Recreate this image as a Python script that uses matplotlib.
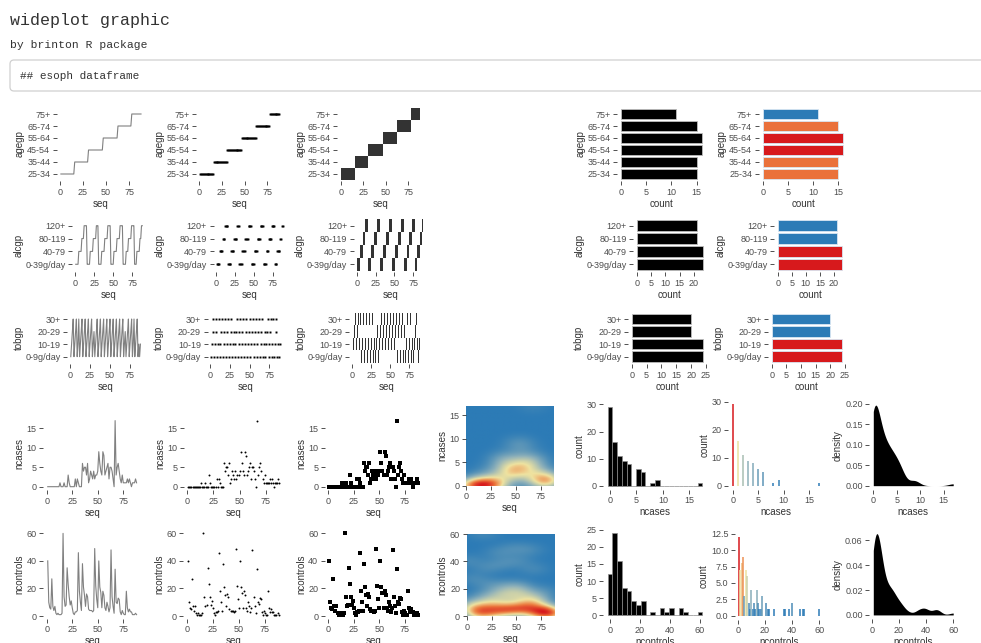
import numpy as np
import matplotlib
matplotlib.use('Agg')
import matplotlib.pyplot as plt
from matplotlib.colors import LinearSegmentedColormap
from matplotlib.patches import FancyBboxPatch

plt.rcParams['font.family'] = ['Liberation Sans', 'DejaVu Sans']

# ---------------- data (esoph) ----------------
agegp_levels = ['25-34', '35-44', '45-54', '55-64', '65-74', '75+']
alcgp_levels = ['0-39g/day', '40-79', '80-119', '120+']
tobgp_levels = ['0-9g/day', '10-19', '20-29', '30+']

agegp = (['25-34'] * 15 + ['35-44'] * 15 + ['45-54'] * 16 + ['55-64'] * 16
         + ['65-74'] * 15 + ['75+'] * 11)
alcgp = (['0-39g/day'] * 4 + ['40-79'] * 4 + ['80-119'] * 3 + ['120+'] * 4
         + ['0-39g/day'] * 4 + ['40-79'] * 4 + ['80-119'] * 4 + ['120+'] * 3
         + ['0-39g/day'] * 4 + ['40-79'] * 4 + ['80-119'] * 4 + ['120+'] * 4
         + ['0-39g/day'] * 4 + ['40-79'] * 4 + ['80-119'] * 4 + ['120+'] * 4
         + ['0-39g/day'] * 4 + ['40-79'] * 3 + ['80-119'] * 4 + ['120+'] * 4
         + ['0-39g/day'] * 3 + ['40-79'] * 4 + ['80-119'] * 2 + ['120+'] * 2)
tobgp = (['0-9g/day', '10-19', '20-29', '30+'] * 2 + ['0-9g/day', '10-19', '30+']
         + ['0-9g/day', '10-19', '20-29', '30+']
         + ['0-9g/day', '10-19', '20-29', '30+'] * 3 + ['0-9g/day', '10-19', '20-29']
         + ['0-9g/day', '10-19', '20-29', '30+'] * 4
         + ['0-9g/day', '10-19', '20-29', '30+'] * 4
         + ['0-9g/day', '10-19', '20-29', '30+'] + ['0-9g/day', '10-19', '20-29']
         + ['0-9g/day', '10-19', '20-29', '30+'] * 2
         + ['0-9g/day', '10-19', '30+'] + ['0-9g/day', '10-19', '20-29', '30+']
         + ['0-9g/day', '10-19'] * 2)
ncases = [0, 0, 0, 0, 0, 0, 0, 0, 0, 0, 0, 0, 1, 0, 0,
          0, 1, 0, 0, 0, 3, 1, 0, 0, 0, 0, 0, 2, 0, 2,
          1, 0, 0, 0, 6, 4, 5, 5, 3, 6, 1, 2, 4, 3, 2, 4,
          2, 3, 3, 4, 9, 6, 4, 3, 9, 8, 3, 4, 5, 6, 2, 5,
          5, 4, 2, 0, 17, 3, 5, 6, 4, 2, 1, 3, 1, 1, 1,
          1, 2, 1, 2, 1, 0, 1, 1, 1, 2, 1]
ncontrols = [40, 10, 6, 5, 27, 7, 4, 7, 2, 1, 2, 1, 1, 1, 2,
             60, 14, 7, 8, 35, 23, 14, 8, 11, 6, 2, 1, 3, 3, 4,
             46, 18, 10, 4, 38, 21, 15, 7, 16, 14, 5, 4, 4, 4, 3, 4,
             49, 22, 12, 6, 40, 21, 17, 6, 18, 15, 6, 4, 10, 7, 3, 6,
             48, 14, 7, 2, 34, 10, 9, 13, 12, 3, 1, 4, 2, 1, 1,
             18, 6, 3, 5, 3, 3, 1, 1, 1, 2, 1]

seq = np.arange(1, len(agegp) + 1)

# ---------------- figure ----------------
W, H = 981, 643
fig = plt.figure(figsize=(W / 100, H / 100), dpi=100)
bg = fig.add_axes([0, 0, 1, 1])
bg.set_xlim(0, W)
bg.set_ylim(H, 0)
bg.axis('off')
bg.text(10, 20, 'wideplot graphic', family='Liberation Mono', fontsize=12,
        va='center', ha='left', color='#333333')
bg.text(10, 45, 'by brinton R package', family='Liberation Mono', fontsize=8.2,
        va='center', ha='left', color='#333333')
bg.add_patch(FancyBboxPatch((10, 60), 990, 31, boxstyle='round,pad=0,rounding_size=4',
                            ec='#d0d0d0', fc='white', lw=0.9))
bg.text(20, 76, '## esoph dataframe', family='Liberation Mono', fontsize=7.9,
        va='center', ha='left', color='#333333')

TICK_C = '#333333'
LAB_C = '#4d4d4d'
TITLE_C = '#333333'
TICK_FS = 6.5
TITLE_FS = 7
cmap = LinearSegmentedColormap.from_list(
    'brinton', [(0.0, '#2c7bb6'), (0.3, '#93b3b9'), (0.55, '#efe3a0'),
                (0.78, '#ec7a3e'), (1.0, '#d7191c')])


def panel(l, t, r, b):
    ax = fig.add_axes([l / W, 1 - b / H, (r - l) / W, (b - t) / H])
    for s in ax.spines.values():
        s.set_visible(False)
    ax.patch.set_visible(False)
    ax.tick_params(length=2.75, width=0.6, color=TICK_C, labelsize=TICK_FS,
                   labelcolor=LAB_C, pad=2)
    return ax


def labels(ax, xl, yl):
    ax.set_xlabel(xl, fontsize=TITLE_FS, color=TITLE_C, labelpad=1.5)
    ax.set_ylabel(yl, fontsize=TITLE_FS, color=TITLE_C, labelpad=1.5)


def expand(lo, hi, m=0.05):
    d = (hi - lo) * m
    return lo - d, hi + d


seq_lim = expand(seq.min(), seq.max())
seq_ticks = [0, 25, 50, 75]

# ---------------- factor rows ----------------
factor_rows = [
    ('agegp', agegp, agegp_levels, 106.8, 181.2,
     [(56.9, 145.0), (196.3, 283.1), (337.2, 424.4), (617.0, 705.7), (758.7, 847.4)],
     [0, 5, 10, 15]),
    ('alcgp', alcgp, alcgp_levels, 218.0, 272.0,
     [(72.4, 145.6), (213.5, 285.8), (353.8, 426.8), (633.4, 705.9), (774.4, 845.7)],
     [0, 5, 10, 15, 20]),
    ('tobgp', tobgp, tobgp_levels, 311.5, 364.2,
     [(67.3, 143.9), (207.5, 283.0), (349.3, 422.9), (628.1, 706.6), (768.2, 845.5)],
     [0, 5, 10, 15, 20, 25]),
]

for name, vals, levels, top, bot, boxes, cticks in factor_rows:
    codes = np.array([levels.index(v) for v in vals])
    n = len(levels)
    ylim = (-0.6, n - 0.4)
    # line graph
    ax = panel(boxes[0][0], top, boxes[0][1], bot)
    ax.plot(seq, codes, color='#808080', lw=0.8)
    # point graph
    ax2 = panel(boxes[1][0], top, boxes[1][1], bot)
    ax2.plot(seq, codes, 's', ms=1.4, mew=0, color='black')
    # tile graph
    ax3 = panel(boxes[2][0], top, boxes[2][1], bot)
    ax3.bar(seq, np.ones(len(seq)), bottom=codes - 0.5, width=1.0,
            color='#333333', linewidth=0)
    for a in (ax, ax2, ax3):
        a.set_xlim(expand(seq.min() - 0.5, seq.max() + 0.5) if a is ax3 else seq_lim)
        a.set_ylim(ylim)
        a.set_yticks(range(n))
        a.set_yticklabels(levels)
        a.set_xticks(seq_ticks)
        labels(a, 'seq', name)
    # bar graph (black) and coloured bar graph
    counts = np.array([list(vals).count(lv) for lv in levels])
    cnorm = (counts - counts.min()) / max(counts.max() - counts.min(), 1)
    for k, (l, r) in enumerate(boxes[3:5]):
        axb = panel(l, top, r, bot)
        if k == 0:
            axb.barh(range(n), counts, height=0.85, color='black',
                     edgecolor='#bdbdbd', lw=0.6)
        else:
            axb.barh(range(n), counts, height=0.85, color=cmap(cnorm),
                     edgecolor='#d9e6f2', lw=0.6)
        axb.set_xlim(expand(0, counts.max()))
        axb.set_ylim(ylim)
        axb.set_yticks(range(n))
        axb.set_yticklabels(levels)
        axb.set_xticks(cticks)
        labels(axb, 'count', name)


# ---------------- numeric rows ----------------
def kde2d(x, y, gx, gy):
    def bw(v):
        q75, q25 = np.percentile(v, [75, 25])
        return 1.06 * min(np.std(v, ddof=1), (q75 - q25) / 1.34) * len(v) ** (-0.2)
    hx, hy = bw(x), bw(y)
    ax_ = np.exp(-0.5 * ((gx[:, None] - x[None, :]) / hx) ** 2)
    ay_ = np.exp(-0.5 * ((gy[:, None] - y[None, :]) / hy) ** 2)
    return ax_ @ ay_.T / (2 * np.pi * len(x) * hx * hy)


def kde1d(v, xs):
    q75, q25 = np.percentile(v, [75, 25])
    h = 0.9 * min(np.std(v, ddof=1), (q75 - q25) / 1.34) * len(v) ** (-0.2)
    return np.exp(-0.5 * ((xs[:, None] - v[None, :]) / h) ** 2).sum(1) / (len(v) * h * np.sqrt(2 * np.pi))


num_rows = [
    ('ncases', np.array(ncases, float), 417.3, 490.0,
     [(43.3, 141.0), (183.8, 283.8), (324.9, 422.7)],
     (466.0, 405.7, 554.0, 485.7), (602.9, 403.2, 707.0, 489.6),
     (728.4, 400.4, 823.6, 489.8), (869.3, 401.1, 957.2, 489.7),
     [0, 5, 10, 15], [0, 10, 20, 30], [0, 10, 20, 30], [0.0, 0.05, 0.10, 0.15, 0.20],
     '{:.0f}', '{:.2f}'),
    ('ncontrols', np.array(ncontrols, float), 529.3, 618.7,
     [(43.3, 141.0), (183.2, 283.1), (324.9, 422.7)],
     (466.7, 534.0, 554.0, 616.0), (602.9, 529.3, 707.1, 619.1),
     (735.0, 533.3, 823.3, 619.6), (869.3, 529.6, 957.2, 619.0),
     [0, 20, 40, 60], [0, 5, 10, 15, 20, 25], [0, 2.5, 5, 7.5, 10, 12.5], [0.0, 0.02, 0.04, 0.06],
     '{:.1f}', '{:.2f}'),
]

for (name, v, top, bot, boxes, hbox, hibox, chbox, dbox,
     vticks, hticks, chticks, dticks, chfmt, dfmt) in num_rows:
    ylim = expand(v.min(), v.max())
    # line, point, binned-point graphs
    axl = panel(boxes[0][0], top, boxes[0][1], bot)
    axl.plot(seq, v, color='#808080', lw=0.8)
    axp = panel(boxes[1][0], top, boxes[1][1], bot)
    axp.plot(seq, v, 'o', ms=1.4, mew=0, color='black')
    axs = panel(boxes[2][0], top, boxes[2][1], bot)
    axs.plot(seq, v, 's', ms=3.4, mew=0, color='black')
    for a in (axl, axp, axs):
        a.set_xlim(seq_lim)
        a.set_ylim(ylim)
        a.set_xticks(seq_ticks)
        a.set_yticks(vticks)
        labels(a, 'seq', name)
    # 2d density raster
    axh = panel(*hbox)
    gx = np.linspace(0, seq.max(), 100)
    gy = np.linspace(0, v.max(), 100)
    z = kde2d(seq.astype(float), v, gx, gy)
    axh.imshow(z.T, origin='lower', extent=(0, seq.max(), 0, v.max()),
               aspect='auto', cmap=cmap, interpolation='bilinear')
    axh.set_xlim(0, seq.max())
    axh.set_ylim(0, v.max())
    axh.set_xticks(seq_ticks)
    axh.set_yticks(vticks)
    labels(axh, 'seq', name)
    # histogram
    axhi = panel(*hibox)
    w = v.max() / 19
    edges = -w / 2 + w * np.arange(21)
    cnt, _ = np.histogram(v, bins=edges)
    axhi.hist(v, bins=edges, color='black', edgecolor='#8c8c8c', lw=0.5)
    axhi.set_xlim(expand(edges[0], edges[-1]))
    axhi.set_ylim(expand(0, cnt.max()))
    axhi.set_xticks(vticks)
    axhi.set_yticks(hticks)
    labels(axhi, name, 'count')
    # coloured histogram (one line per distinct value)
    axc = panel(*chbox)
    uv, uc = np.unique(v, return_counts=True)
    cn = (uc - uc.min()) / (uc.max() - uc.min())
    axc.vlines(uv, 0, uc, colors=cmap(cn), lw=1.1)
    axc.set_xlim(expand(v.min(), v.max()))
    axc.set_ylim(expand(0, uc.max()))
    axc.set_xticks(vticks)
    axc.set_yticks(chticks)
    axc.set_yticklabels([chfmt.format(t) for t in chticks])
    labels(axc, name, 'count')
    # density
    axd = panel(*dbox)
    xs = np.linspace(v.min(), v.max(), 512)
    d = kde1d(v, xs)
    axd.fill_between(xs, 0, d, color='black', lw=0)
    axd.set_xlim(expand(v.min(), v.max()))
    axd.set_ylim(expand(0, d.max()))
    axd.set_xticks(vticks)
    axd.set_yticks(dticks)
    axd.set_yticklabels([dfmt.format(t) for t in dticks])
    labels(axd, name, 'density')

fig.savefig('out.png', dpi=100)
